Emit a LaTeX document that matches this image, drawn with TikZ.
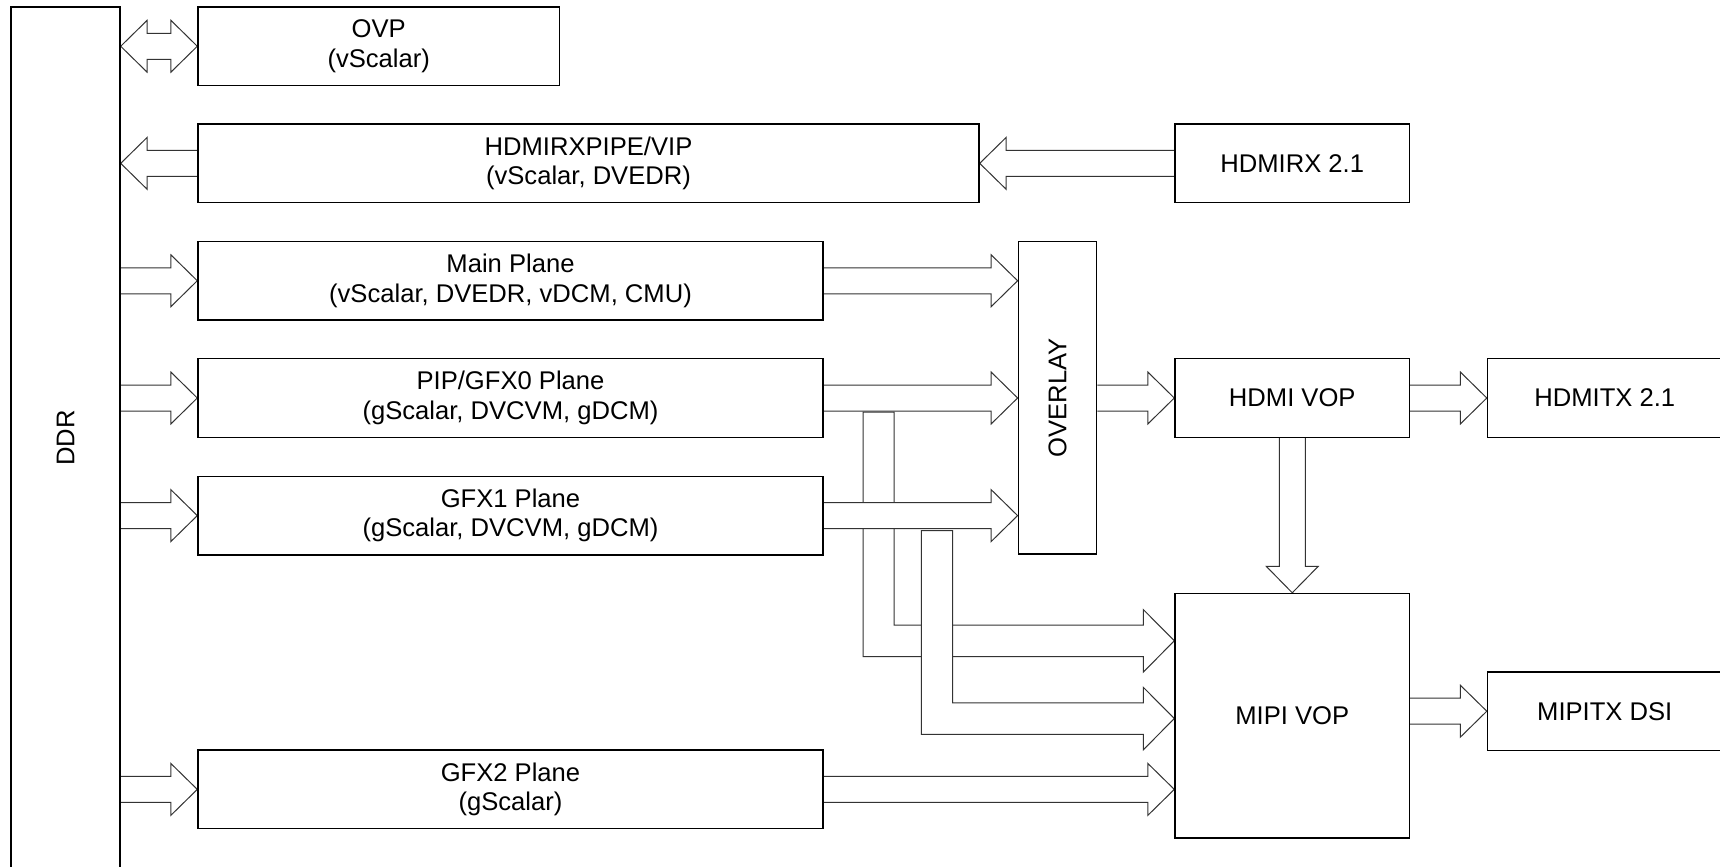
\documentclass[tikz,border=0pt]{standalone}
\usepackage{fontspec}
\setmainfont{Liberation Sans}
\usetikzlibrary{calc,backgrounds}

\begin{document}
\begin{tikzpicture}[
  x=0.5pt, y=-0.5pt,
  font=\fontsize{12.8}{14.7}\selectfont,
  blkbox/.style={draw, line width=0.7pt, align=center, inner sep=0pt, minimum height=39.25pt},
  planebox/.style={blkbox, minimum width=312.5pt},
  vopbox/.style={blkbox, minimum width=117.25pt},
  barw/.store in=\barw, barh/.store in=\barh, barl/.store in=\barl,
  barw=6.5pt, barh=13pt, barl=13.25pt,
  bline/.style={draw=black!80, line width=0.5pt, fill=white},
  barrow/.style={bline, to path={
    ($(\tikztostart)!\barw!90:(\tikztotarget)$)
    -- ($(\tikztotarget)!\barl!(\tikztostart)!\barw!90:(\tikztotarget)$)
    -- ($(\tikztotarget)!\barl!(\tikztostart)!\barh!90:(\tikztotarget)$)
    -- (\tikztotarget)
    -- ($(\tikztotarget)!\barl!(\tikztostart)!\barh!-90:(\tikztotarget)$)
    -- ($(\tikztotarget)!\barl!(\tikztostart)!\barw!-90:(\tikztotarget)$)
    -- ($(\tikztostart)!\barw!-90:(\tikztotarget)$)}},
  barrow2/.style={bline, to path={
    (\tikztostart)
    -- ($(\tikztostart)!\barl!(\tikztotarget)!\barh!90:(\tikztotarget)$)
    -- ($(\tikztostart)!\barl!(\tikztotarget)!\barw!90:(\tikztotarget)$)
    -- ($(\tikztotarget)!\barl!(\tikztostart)!\barw!90:(\tikztotarget)$)
    -- ($(\tikztotarget)!\barl!(\tikztostart)!\barh!90:(\tikztotarget)$)
    -- (\tikztotarget)
    -- ($(\tikztotarget)!\barl!(\tikztostart)!\barh!-90:(\tikztotarget)$)
    -- ($(\tikztotarget)!\barl!(\tikztostart)!\barw!-90:(\tikztotarget)$)
    -- ($(\tikztostart)!\barl!(\tikztotarget)!\barw!-90:(\tikztotarget)$)
    -- ($(\tikztostart)!\barl!(\tikztotarget)!\barh!-90:(\tikztotarget)$)
    -- cycle}}
]
\useasboundingbox (0,0) rectangle (1720,867);

\node[blkbox, minimum width=54.5pt, minimum height=431pt] (ddr) at (65.5,438) {};
\node[rotate=90] (ddrtext) at (ddr.center) {DDR};
\node[blkbox, minimum width=180.75pt] (ovp) at (378.75,46.25) {OVP\\(vScalar)};
\node[blkbox, minimum width=390.5pt] (rxpipe) at (588.5,163.35) {HDMIRXPIPE/VIP\\(vScalar, DVEDR)};
\node[vopbox] (hdmirx) at (1292.25,163.35) {HDMIRX 2.1};
\node[planebox] (mainpl) at (510.5,280.75) {Main Plane\\(vScalar, DVEDR, vDCM, CMU)};
\node[planebox] (pip) at (510.5,398) {PIP/GFX0 Plane\\(gScalar, DVCVM, gDCM)};
\node[planebox] (gfx1) at (510.5,515.6) {GFX1 Plane\\(gScalar, DVCVM, gDCM)};
\node[planebox] (gfx2) at (510.5,789.4) {GFX2 Plane\\(gScalar)};
\node[blkbox, minimum width=39.2pt, minimum height=156.25pt] (overlay) at (1057.5,397.75) {};
\node[rotate=90] (overlaytext) at (overlay.center) {OVERLAY};
\node[vopbox] (hdmivop) at (1292.25,398) {HDMI VOP};
\node[vopbox] (hdmitx) at (1604.75,398) {HDMITX 2.1};
\node[vopbox, minimum height=122.25pt] (mipi) at (1292.25,715.75) {MIPI VOP};
\node[vopbox] (mipitx) at (1604.75,711.2) {MIPITX DSI};

\begin{scope}[on background layer]
  % DDR side
  \draw[barrow2] (ddr.east |- ovp) to (ovp.west);
  \draw[barrow] (rxpipe.west) to (ddr.east |- rxpipe);
  \draw[barrow] (hdmirx.west) to (rxpipe.east |- hdmirx);
  \foreach \pl in {mainpl,pip,gfx1,gfx2}
    \draw[barrow] (ddr.east |- \pl) to (\pl.west);
  % planes into overlay, PIP/GFX1 also go down to MIPI VOP
  \draw[barrow] (mainpl.east) to (overlay.west |- mainpl);
  \draw[bline] ($(pip.east)+(39.5,14)$) |- ($(mipi.west)+(-31,-59.2)$) -- ++(0,15.6)
    -- ($(mipi.west)+(0,-75)$) -- ++(-31,-31.2) -- ++(0,15.6) -| ($(pip.east)+(70.5,14)$) -- cycle;
  \draw[barrow] (pip.east) to (overlay.west |- pip);
  \draw[barrow] (gfx1.east) to (overlay.west |- gfx1);
  \draw[bline] ($(gfx1.east)+(97.7,15)$) |- ($(mipi.west)+(-31,18.5)$) -- ++(0,15.6)
    -- ($(mipi.west)+(0,2.75)$) -- ++(-31,-31.2) -- ++(0,15.6) -| ($(gfx1.east)+(129,15)$) -- cycle;
  % outputs
  \draw[barrow] (overlay.east |- hdmivop) to (hdmivop.west);
  \draw[barrow] (hdmivop.east) to (hdmitx.west);
  \draw[barrow] (hdmivop.south) to (mipi.north);
  \draw[barrow] (gfx2.east) to (mipi.west |- gfx2);
  \draw[barrow] (mipi.east |- mipitx) to (mipitx.west);
\end{scope}
\end{tikzpicture}
\end{document}
